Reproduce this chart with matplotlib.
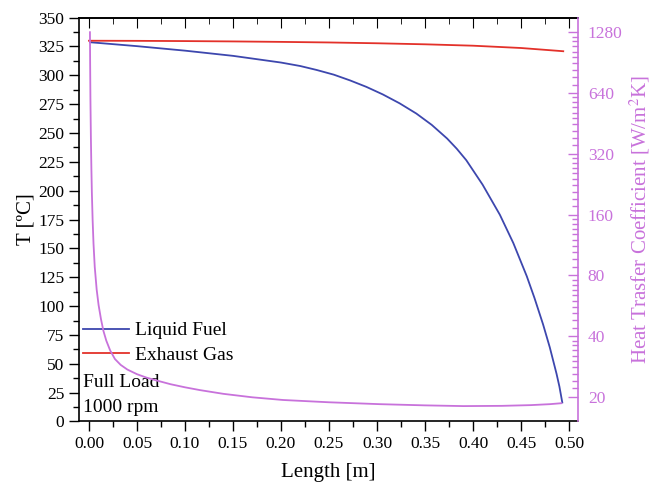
import matplotlib
matplotlib.use('Agg')
import matplotlib.pyplot as plt
from matplotlib.ticker import FixedLocator, FixedFormatter, NullFormatter, MultipleLocator

plt.rcParams['font.family'] = ['Liberation Serif', 'DejaVu Serif']
plt.rcParams['mathtext.fontset'] = 'stix'

# exhaust gas temperature
x_gas = [0.0, 0.05, 0.1, 0.15, 0.2, 0.25, 0.3, 0.35, 0.4, 0.45, 0.494]
t_gas = [329.9, 329.8, 329.6, 329.3, 328.9, 328.4, 327.7, 326.8, 325.6, 323.6, 320.8]

# liquid fuel temperature
x_fuel = [0.001, 0.05, 0.1, 0.15, 0.2, 0.22, 0.237, 0.255, 0.272, 0.289,
          0.306, 0.3235, 0.341, 0.357, 0.373, 0.383, 0.393, 0.41, 0.428, 0.442,
          0.456, 0.464, 0.473, 0.48, 0.487, 0.49, 0.493]
t_fuel = [328.6, 325.2, 321.3, 316.8, 311.0, 308.0, 304.6, 300.5, 295.5, 289.9,
          283.4, 275.7, 266.8, 257.0, 245.2, 236.4, 226.4, 205.2, 179.1, 154.6,
          125.9, 107.1, 84.1, 64.2, 41.4, 30.3, 16.5]

# heat transfer coefficient
x_htc = [0.001, 0.0012, 0.0015, 0.002, 0.0025, 0.003, 0.0038, 0.0047, 0.006, 0.008,
         0.010, 0.0125, 0.015, 0.018, 0.022, 0.027, 0.033, 0.04, 0.05, 0.06,
         0.0705, 0.085, 0.1, 0.1156, 0.14, 0.17, 0.202, 0.25, 0.303, 0.35,
         0.39, 0.43, 0.46, 0.48, 0.492]
htc = [1280, 900, 600, 380, 270, 205, 150, 115, 88, 68,
       57, 48.5, 42.5, 38, 34, 30.8, 28.8, 27.3, 25.9, 24.9,
       24.1, 23.1, 22.3, 21.6, 20.7, 19.9, 19.3, 18.8, 18.4, 18.15,
       18.0, 18.05, 18.2, 18.4, 18.6]

htc_ticks = [20, 40, 80, 160, 320, 640, 1280]

blue = '#3D47AE'
red = '#E3312A'
purple = '#C872DB'

fig = plt.figure(figsize=(6.6, 4.87), dpi=100)
ax = fig.add_axes([0.1197, 0.1345, 0.7561, 0.8295])

l1, = ax.plot(x_fuel, t_fuel, color=blue, lw=1.3, label='Liquid Fuel')
l2, = ax.plot(x_gas, t_gas, color=red, lw=1.3, label='Exhaust Gas')

ax.set_xlim(-0.0104, 0.5094)
ax.set_ylim(0, 350)
ax.xaxis.set_major_locator(MultipleLocator(0.05))
ax.xaxis.set_minor_locator(MultipleLocator(0.025))
ax.yaxis.set_major_locator(MultipleLocator(25))
ax.yaxis.set_minor_locator(MultipleLocator(12.5))
ax.xaxis.set_major_formatter(matplotlib.ticker.FormatStrFormatter('%.2f'))
ax.tick_params(axis='both', which='major', direction='out', length=7, width=1, labelsize=12.5)
ax.tick_params(axis='both', which='minor', direction='out', length=4, width=1)
ax.set_xlabel('Length [m]', fontsize=15, labelpad=8)
ax.set_ylabel('T [ºC]', fontsize=15, labelpad=2)
ax.spines['right'].set_visible(False)
for s in ['left', 'bottom', 'top']:
    ax.spines[s].set_linewidth(1.2)

top = ax.secondary_xaxis('top')
top.xaxis.set_major_locator(MultipleLocator(0.05))
top.xaxis.set_minor_locator(MultipleLocator(0.025))
top.tick_params(which='major', direction='in', length=7, labeltop=False)
top.tick_params(which='minor', direction='in', length=4)
top.spines['top'].set_linewidth(1.2)

ax2 = ax.twinx()
ax2.plot(x_htc, htc, color=purple, lw=1.3)
ax2.set_yscale('log')
ax2.set_ylim(15.1, 1513)
minors = [m * (1 + 0.1 * k) for m in htc_ticks[:-1] for k in range(1, 10)]
ax2.yaxis.set_major_locator(FixedLocator(htc_ticks))
ax2.yaxis.set_major_formatter(FixedFormatter([str(v) for v in htc_ticks]))
ax2.yaxis.set_minor_locator(FixedLocator(minors))
ax2.yaxis.set_minor_formatter(NullFormatter())
ax2.tick_params(axis='y', which='major', direction='in', length=7, width=1,
                colors=purple, labelsize=12.5, pad=7)
ax2.tick_params(axis='y', which='minor', direction='in', length=4, width=1, colors=purple)
for s in ['left', 'top', 'bottom']:
    ax2.spines[s].set_visible(False)
ax2.spines['right'].set_color(purple)
ax2.spines['right'].set_linewidth(1.2)
ax2.set_ylabel('Heat Trasfer Coefficient [W/m$^2$K]', color=purple, fontsize=15, labelpad=4)

leg = ax.legend(handles=[l1, l2], loc='center left', bbox_to_anchor=(0.008, 0.195),
                frameon=False, fontsize=14, handlelength=2.35, handletextpad=0.3,
                labelspacing=0.35, borderpad=0, borderaxespad=0)
ax.text(0.008, 0.097, 'Full Load', transform=ax.transAxes, fontsize=14, va='center', ha='left')
ax.text(0.008, 0.035, '1000 rpm', transform=ax.transAxes, fontsize=14, va='center', ha='left')

fig.savefig('out.png', dpi=100)
